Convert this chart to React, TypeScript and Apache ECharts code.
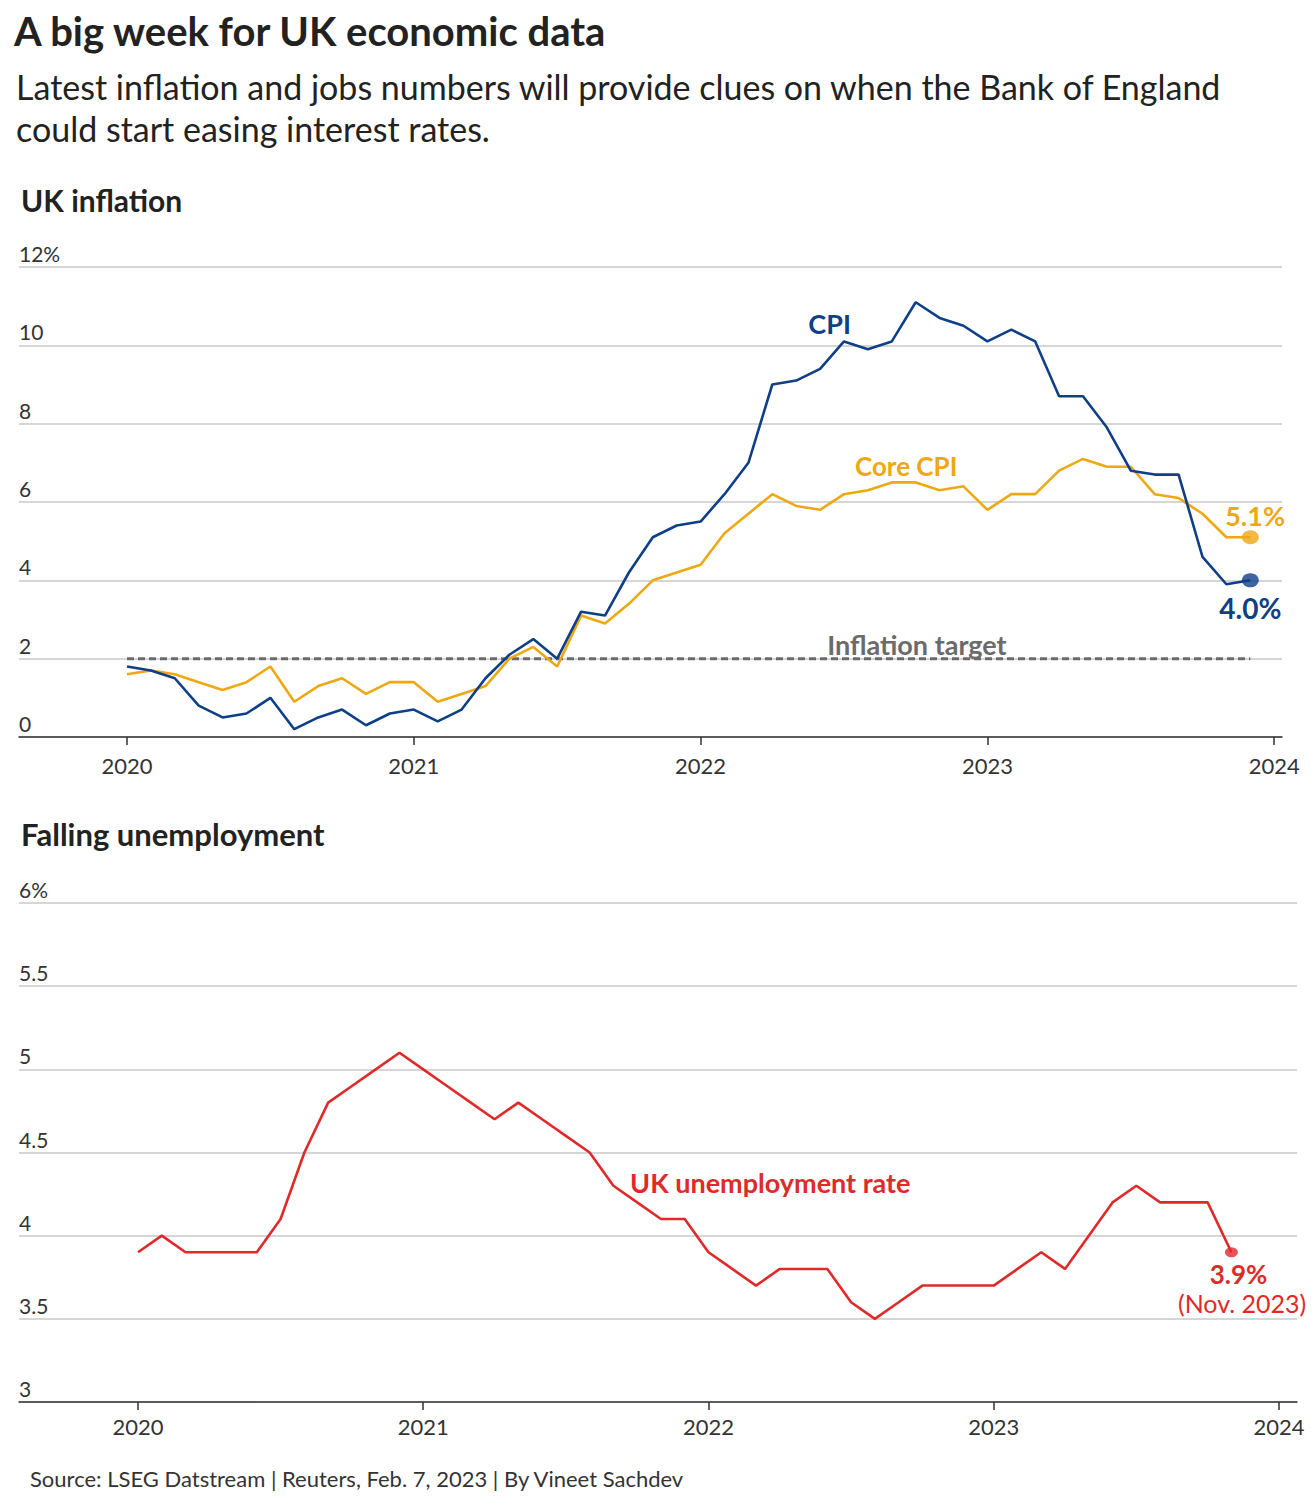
import React, { useEffect, useRef } from "react";
import * as echarts from "echarts";

// Months since Jan 2020
const cpi = [1.8, 1.7, 1.5, 0.8, 0.5, 0.6, 1.0, 0.2, 0.5, 0.7, 0.3, 0.6,
  0.7, 0.4, 0.7, 1.5, 2.1, 2.5, 2.0, 3.2, 3.1, 4.2, 5.1, 5.4,
  5.5, 6.2, 7.0, 9.0, 9.1, 9.4, 10.1, 9.9, 10.1, 11.1, 10.7, 10.5,
  10.1, 10.4, 10.1, 8.7, 8.7, 7.9, 6.8, 6.7, 6.7, 4.6, 3.9, 4.0];
const coreCpi = [1.6, 1.7, 1.6, 1.4, 1.2, 1.4, 1.8, 0.9, 1.3, 1.5, 1.1, 1.4,
  1.4, 0.9, 1.1, 1.3, 2.0, 2.3, 1.8, 3.1, 2.9, 3.4, 4.0, 4.2,
  4.4, 5.2, 5.7, 6.2, 5.9, 5.8, 6.2, 6.3, 6.5, 6.5, 6.3, 6.4,
  5.8, 6.2, 6.2, 6.8, 7.1, 6.9, 6.9, 6.2, 6.1, 5.7, 5.1, 5.1];
const unemployment = [3.9, 4.0, 3.9, 3.9, 3.9, 3.9, 4.1, 4.5, 4.8, 4.9, 5.0, 5.1,
  5.0, 4.9, 4.8, 4.7, 4.8, 4.7, 4.6, 4.5, 4.3, 4.2, 4.1, 4.1,
  3.9, 3.8, 3.7, 3.8, 3.8, 3.8, 3.6, 3.5, 3.6, 3.7, 3.7, 3.7,
  3.7, 3.8, 3.9, 3.8, 4.0, 4.2, 4.3, 4.2, 4.2, 4.2, 3.9];
const inflationTarget = 2;
const yearTicks = [0, 12, 24, 36, 48];
const startYear = 2020;
const inflationTicks = [0, 2, 4, 6, 8, 10, 12];
const unemploymentTicks = [3, 3.5, 4, 4.5, 5, 5.5, 6];

const BLUE = "#0f3f86";
const ORANGE = "#eea811";
const RED = "#e02a2a";
const GRAY = "#6b6b6b";
const TEXT = "#222";
const FONT = "Lato, 'Noto Sans', sans-serif";

const toPts = (arr: number[]) => arr.map((v, i) => [i, v]);

export default function App() {
  const ref = useRef<HTMLDivElement>(null);
  useEffect(() => {
    if (!ref.current) return;
    const chart = echarts.init(ref.current, null, { renderer: "svg" });

    const xAxisBase = (gridIndex: number, min: number, max: number, margin: number) => ({
      type: "value",
      gridIndex,
      min,
      max,
      splitLine: { show: false },
      axisLine: { show: true, onZero: false, lineStyle: { color: "#333", width: 1.5 } },
      axisTick: { show: true, customValues: yearTicks, length: 8, lineStyle: { color: "#333", width: 1.5 } },
      axisLabel: {
        customValues: yearTicks,
        formatter: (v: number) => String(startYear + Math.round(v / 12)),
        color: "#333",
        fontSize: 22,
        fontFamily: FONT,
        margin,
      },
    });
    const yAxisBase = (gridIndex: number, min: number, max: number, interval: number, top: number) => ({
      type: "value",
      gridIndex,
      min,
      max,
      interval,
      axisLine: { show: false },
      axisTick: { show: false },
      splitLine: { show: true, lineStyle: { color: "#c8c8c8", width: 1.5 } },
      axisLabel: {
        inside: true,
        margin: 0,
        verticalAlign: "bottom",
        padding: [0, 0, 3, 0],
        color: "#333",
        fontSize: 21,
        fontFamily: FONT,
        formatter: (v: number) => (v === top ? `${v}%` : String(v)),
      },
    });

    const option: any = {
      animation: false,
      backgroundColor: "#fff",
      textStyle: { fontFamily: FONT },
      grid: [
        { left: 19, top: 267, width: 1263, height: 470, containLabel: false },
        { left: 19, top: 903, width: 1278, height: 499, containLabel: false },
      ],
      xAxis: [
        xAxisBase(0, (19 - 127) / 23.9, (1282 - 127) / 23.9, 17),
        xAxisBase(1, (19 - 138) / 23.77, (1297 - 138) / 23.77, 13),
      ],
      yAxis: [
        yAxisBase(0, inflationTicks[0], inflationTicks[inflationTicks.length - 1], 2, 12),
        yAxisBase(1, unemploymentTicks[0], unemploymentTicks[unemploymentTicks.length - 1], 0.5, 6),
      ],
      series: [
        {
          type: "line",
          name: "Inflation target",
          xAxisIndex: 0,
          yAxisIndex: 0,
          data: [[0, inflationTarget], [cpi.length - 1, inflationTarget]],
          symbol: "none",
          lineStyle: { color: GRAY, width: 3, type: [7, 4] },
          z: 1,
        },
        {
          type: "line",
          name: "Core CPI",
          xAxisIndex: 0,
          yAxisIndex: 0,
          data: toPts(coreCpi),
          symbol: "none",
          lineStyle: { color: ORANGE, width: 2.6 },
          z: 2,
        },
        {
          type: "line",
          name: "CPI",
          xAxisIndex: 0,
          yAxisIndex: 0,
          data: toPts(cpi),
          symbol: "none",
          lineStyle: { color: BLUE, width: 2.6 },
          z: 3,
        },
        {
          type: "scatter",
          xAxisIndex: 0,
          yAxisIndex: 0,
          data: [[coreCpi.length - 1, coreCpi[coreCpi.length - 1]]],
          symbol: "circle",
          symbolSize: [17, 14],
          itemStyle: { color: ORANGE },
          z: 4,
        },
        {
          type: "scatter",
          xAxisIndex: 0,
          yAxisIndex: 0,
          data: [[cpi.length - 1, cpi[cpi.length - 1]]],
          symbol: "circle",
          symbolSize: [17, 14],
          itemStyle: { color: BLUE },
          z: 4,
        },
        {
          type: "line",
          name: "UK unemployment rate",
          xAxisIndex: 1,
          yAxisIndex: 1,
          data: toPts(unemployment),
          symbol: "none",
          lineStyle: { color: RED, width: 2.6 },
          z: 3,
        },
        {
          type: "scatter",
          xAxisIndex: 1,
          yAxisIndex: 1,
          data: [[unemployment.length - 1, unemployment[unemployment.length - 1]]],
          symbol: "circle",
          symbolSize: [13, 10],
          itemStyle: { color: RED },
          z: 4,
        },
      ],
    };
    chart.setOption(option);

    const p0 = (x: number, y: number) => chart.convertToPixel({ gridIndex: 0 }, [x, y]) as number[];
    const p1 = (x: number, y: number) => chart.convertToPixel({ gridIndex: 1 }, [x, y]) as number[];
    const label = (pos: number[], text: string, color: string, size: number, weight: any = "bold") => ({
      type: "text",
      x: pos[0],
      y: pos[1],
      style: {
        text,
        fill: color,
        font: `${weight} ${size}px ${FONT}`,
        align: "center",
        verticalAlign: "middle",
      },
    });
    const staticText = (x: number, y: number, text: string, size: number, weight: any, color = TEXT) => ({
      type: "text",
      x,
      y,
      style: { text, fill: color, font: `${weight} ${size}px ${FONT}`, align: "left", verticalAlign: "middle" },
    });

    chart.setOption({
      graphic: [
        staticText(14, 31, "A big week for UK economic data", 40, "bold"),
        staticText(16, 86, "Latest inflation and jobs numbers will provide clues on when the Bank of England", 34, "normal"),
        staticText(16, 128, "could start easing interest rates.", 34, "normal"),
        staticText(21, 200, "UK inflation", 30, "bold"),
        staticText(21, 834, "Falling unemployment", 31, "bold"),
        staticText(30, 1478, "Source: LSEG Datstream | Reuters, Feb. 7, 2023 | By Vineet Sachdev", 22, "normal", "#333"),
        label(p0(29.4, 10.56), "CPI", BLUE, 27),
        label(p0(32.6, 6.91), "Core CPI", ORANGE, 26),
        label(p0(47.2, 5.66), "5.1%", ORANGE, 27),
        label(p0(47.0, 3.29), "4.0%", BLUE, 28),
        label(p0(33.05, 2.36), "Inflation target", GRAY, 27),
        label(p1(26.6, 4.317), "UK unemployment rate", RED, 27),
        label(p1(46.3, 3.768), "3.9%", RED, 26),
        label(p1(46.45, 3.595), "(Nov. 2023)", RED, 25, "normal"),
      ],
    });

    return () => chart.dispose();
  }, []);
  return (
    <div
      ref={ref}
      style={{ position: "absolute", left: 0, top: 0, width: 1314, height: 1506, background: "#fff" }}
    />
  );
}
